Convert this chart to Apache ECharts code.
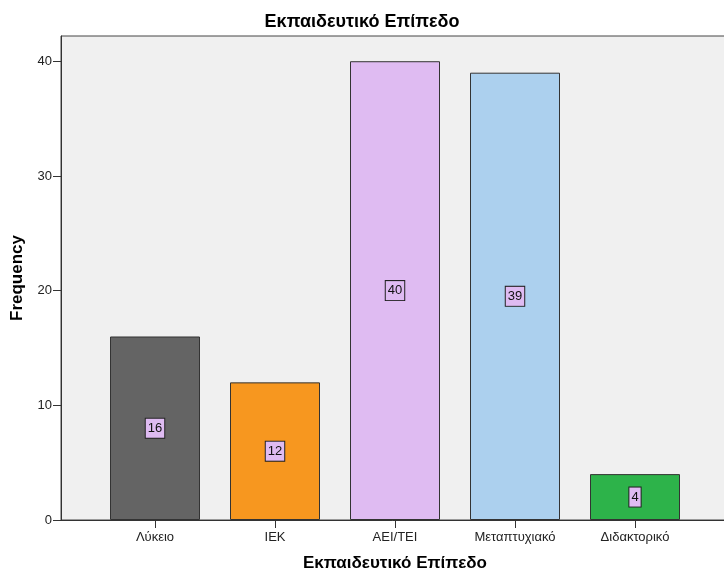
<!DOCTYPE html>
<html>
<head>
<meta charset="utf-8">
<script src="https://cdn.jsdelivr.net/npm/echarts@6/dist/echarts.min.js"></script>
<style>
  html, body { margin: 0; padding: 0; background: #fff; }
  #chart { width: 724px; height: 572px; }
</style>
</head>
<body>
<div id="chart"></div>
<script>
// data
const categories = ['Λύκειο', 'ΙΕΚ', 'ΑΕΙ/ΤΕΙ', 'Μεταπτυχιακό', 'Διδακτορικό'];
const frequency = [16, 12, 40, 39, 4];
const barColors = ['#646464', '#f7971f', '#dfbbf2', '#acd0ee', '#2db34a'];
const yTicks = [0, 10, 20, 30, 40];

const font = '"Liberation Sans", Arial, sans-serif';
const yMax = 42.2;

const chart = echarts.init(document.getElementById('chart'));

const option = {
  animation: false,
  textStyle: { fontFamily: font },
  title: {
    text: 'Εκπαιδευτικό Επίπεδο',
    left: 'center',
    top: 8,
    textStyle: { fontSize: 18, fontWeight: 'bold', color: '#000', fontFamily: font }
  },
  grid: [
    // plot frame
    { left: 61, top: 36, right: -20, bottom: 52, outerBoundsMode: 'none', show: true, backgroundColor: '#f0f0f0', borderColor: '#444', borderWidth: 1 },
    // bars
    { left: 95, width: 600, top: 36, bottom: 52, outerBoundsMode: 'none' }
  ],
  xAxis: [
    {
      gridIndex: 0, type: 'value', min: 0, max: 1,
      axisLine: { show: true, lineStyle: { color: '#333' } },
      axisTick: { show: false }, axisLabel: { show: false }, splitLine: { show: false }
    },
    {
      gridIndex: 1, type: 'category', data: categories,
      name: 'Εκπαιδευτικό Επίπεδο', nameLocation: 'middle', nameGap: 35,
      nameTextStyle: { fontSize: 17, fontWeight: 'bold', color: '#000', fontFamily: font },
      axisLine: { show: false },
      axisTick: { show: true, alignWithLabel: true, length: 8, lineStyle: { color: '#333' } },
      axisLabel: { fontSize: 13, color: '#222', margin: 11, fontFamily: font }
    }
  ],
  yAxis: [
    {
      gridIndex: 0, type: 'value', min: 0, max: yMax, interval: 10,
      name: 'Frequency', nameLocation: 'middle', nameGap: 35, nameRotate: 90,
      nameTextStyle: { fontSize: 17, fontWeight: 'bold', color: '#000', fontFamily: font },
      axisLine: { show: true, lineStyle: { color: '#333' } },
      axisTick: { show: true, length: 8, customValues: yTicks, lineStyle: { color: '#333' } },
      axisLabel: { fontSize: 13, color: '#222', margin: 9, customValues: yTicks, fontFamily: font },
      splitLine: { show: false }
    },
    {
      gridIndex: 1, type: 'value', min: 0, max: yMax, show: false
    }
  ],
  series: [
    {
      type: 'bar',
      xAxisIndex: 1, yAxisIndex: 1,
      barWidth: '75%',
      data: frequency.map((v, i) => ({
        value: v,
        itemStyle: { color: barColors[i] }
      })),
      itemStyle: { borderColor: '#333', borderWidth: 1 },
      label: {
        show: true,
        position: 'inside',
        fontSize: 13,
        color: '#111',
        fontFamily: font,
        backgroundColor: '#dfbbf2',
        borderColor: '#222',
        borderWidth: 1,
        padding: [3, 2, 3, 2]
      }
    }
  ]
};

chart.setOption(option);
</script>
</body>
</html>
